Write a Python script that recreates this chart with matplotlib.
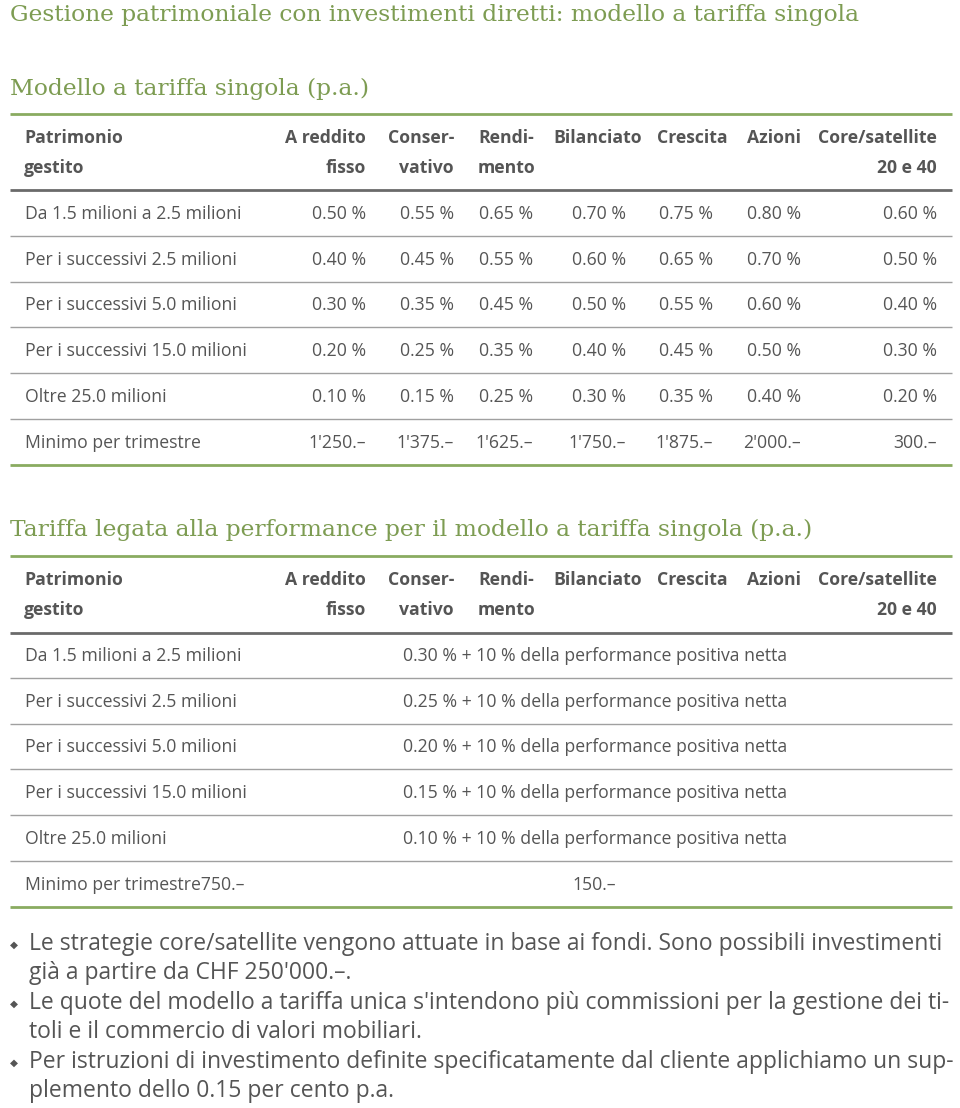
import matplotlib
matplotlib.use("Agg")
import matplotlib.pyplot as plt

GREEN = "#7d9c52"
LINE_GREEN = "#8aab60"
TEXT = "#555555"
DARK_LINE = "#6a6a6a"
LIGHT_LINE = "#a0a0a0"

title_main = "Gestione patrimoniale con investimenti diretti: modello a tariffa singola"
title_1 = "Modello a tariffa singola (p.a.)"
title_2 = "Tariffa legata alla performance per il modello a tariffa singola (p.a.)"

header_first = ["Patrimonio", "gestito"]
columns = [("A reddito", "fisso"), ("Conser-", "vativo"), ("Rendi-", "mento"),
           ("Bilanciato", ""), ("Crescita", ""), ("Azioni", ""),
           ("Core/satellite", "20 e 40")]

rows_1 = ["Da 1.5 milioni a 2.5 milioni", "Per i successivi 2.5 milioni",
          "Per i successivi 5.0 milioni", "Per i successivi 15.0 milioni",
          "Oltre 25.0 milioni"]
fees_1 = [
    [0.50, 0.55, 0.65, 0.70, 0.75, 0.80, 0.60],
    [0.40, 0.45, 0.55, 0.60, 0.65, 0.70, 0.50],
    [0.30, 0.35, 0.45, 0.50, 0.55, 0.60, 0.40],
    [0.20, 0.25, 0.35, 0.40, 0.45, 0.50, 0.30],
    [0.10, 0.15, 0.25, 0.30, 0.35, 0.40, 0.20],
]
minimo_1 = ["1'250.–", "1'375.–", "1'625.–", "1'750.–", "1'875.–", "2'000.–", "300.–"]

rows_2 = rows_1
fees_2 = [0.30, 0.25, 0.20, 0.15, 0.10]
perf_share = 10
minimo_2 = ["750.–", "150.–"]

notes = [
    ["Le strategie core/satellite vengono attuate in base ai fondi. Sono possibili investimenti",
     "già a partire da CHF 250'000.–."],
    ["Le quote del modello a tariffa unica s'intendono più commissioni per la gestione dei ti-",
     "toli e il commercio di valori mobiliari."],
    ["Per istruzioni di investimento definite specificatamente dal cliente applichiamo un sup-",
     "plemento dello 0.15 per cento p.a."],
]

fig = plt.figure(figsize=(9.6, 11.08), dpi=100)
ax = fig.add_axes([0, 0, 1, 1])
ax.set_xlim(0, 960)
ax.set_ylim(1108, 0)
ax.axis("off")

SERIF = "DejaVu Serif"
SANS = "Open Sans"
FS = 12.7
TFS = 16.8

# column anchors: (x, alignment for header)
val_right = [366, 454, 533, 626, 713, 801, 937]
head_pos = [(366, "right"), (454, "right"), (478, "left"), (553, "left"),
            (657, "left"), (801, "right"), (937, "right")]


def hline(y, color, lw):
    ax.plot([10, 952], [y, y], color=color, lw=lw, solid_capstyle="butt")


def header(y0):
    ax.text(24, y0, header_first[0], fontsize=FS, fontweight="bold", color=TEXT,
            family=SANS, va="center")
    ax.text(24, y0 + 30, header_first[1], fontsize=FS, fontweight="bold", color=TEXT,
            family=SANS, va="center")
    for (l1, l2), (x, ha) in zip(columns, head_pos):
        ax.text(x, y0, l1, fontsize=FS, fontweight="bold", color=TEXT, family=SANS,
                va="center", ha=ha)
        if l2:
            ax.text(x, y0 + 30, l2, fontsize=FS, fontweight="bold", color=TEXT,
                    family=SANS, va="center", ha=ha)


def cell(x, y, s, ha="left"):
    ax.text(x, y, s, fontsize=FS, color=TEXT, family=SANS, va="center", ha=ha)


# titles
ax.text(10, 15, title_main, fontsize=TFS, color=GREEN, family=SERIF, va="center")
ax.text(10, 89, title_1, fontsize=TFS, color=GREEN, family=SERIF, va="center")

# table 1
hline(114, LINE_GREEN, 2)
header(138)
hline(190, DARK_LINE, 2)
row_h = 45.7
y = 214
for name, vals in zip(rows_1, fees_1):
    cell(25, y, name)
    for x, v in zip(val_right, vals):
        cell(x, y, f"{v:.2f} %", ha="right")
    hline(y + 22, LIGHT_LINE, 1)
    y += row_h
cell(25, y, "Minimo per trimestre")
for x, s in zip(val_right, minimo_1):
    cell(x, y, s, ha="right")
hline(465, LINE_GREEN, 2)

# table 2
ax.text(10, 530, title_2, fontsize=TFS, color=GREEN, family=SERIF, va="center")
hline(556, LINE_GREEN, 2)
header(580)
hline(633, DARK_LINE, 2)
y = 656
for name, f in zip(rows_2, fees_2):
    cell(25, y, name)
    cell(403, y, f"{f:.2f} % + {perf_share} % della performance positiva netta")
    hline(y + 22, LIGHT_LINE, 1)
    y += row_h
cell(25, y, "Minimo per trimestre" + minimo_2[0])
cell(572, y, minimo_2[1])
hline(907, LINE_GREEN, 2)

# notes
y = 944
for lines in notes:
    ax.text(14, y + 1, "◆", fontsize=7.5, color="#555555", family="DejaVu Sans",
            va="center", ha="center")
    for ln in lines:
        ax.text(29, y, ln, fontsize=16.45, color=TEXT, family=SANS, va="center")
        y += 29.4

fig.savefig("out.png", dpi=100)
